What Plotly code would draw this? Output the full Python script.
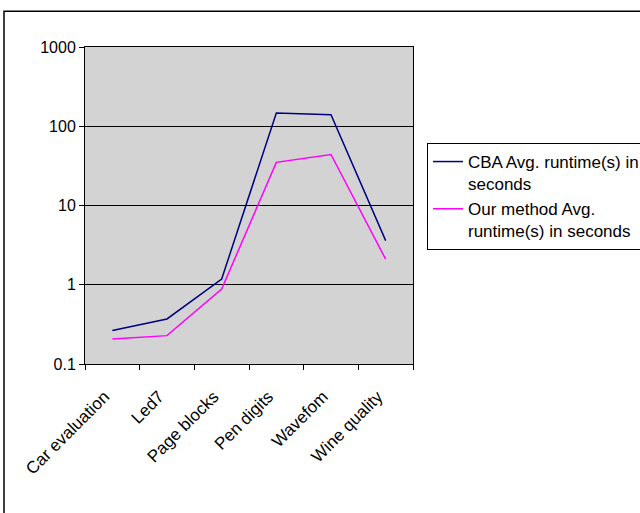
import plotly.graph_objects as go

categories = ["Car evaluation", "Led7", "Page blocks", "Pen digits", "Wavefom", "Wine quality"]
cba_runtime = [0.264, 0.37, 1.18, 147, 140, 3.6]
our_runtime = [0.207, 0.228, 0.88, 35, 44, 2.1]
y_tick_vals = [0.1, 1, 10, 100, 1000]
y_tick_text = ["0.1", "1", "10", "100", "1000"]

FONT = "Liberation Sans, Arial, sans-serif"

fig = go.Figure()
fig.add_trace(go.Scatter(x=categories, y=cba_runtime, mode="lines",
                         name="CBA Avg. runtime(s) in<br>seconds",
                         line=dict(color="#000080", width=1.5)))
fig.add_trace(go.Scatter(x=categories, y=our_runtime, mode="lines",
                         name="Our method Avg.<br>runtime(s) in seconds",
                         line=dict(color="#FF00FF", width=1.5)))

fig.update_layout(
    width=640, height=513, autosize=False,
    margin=dict(l=85, r=227, t=47, b=149),
    paper_bgcolor="white", plot_bgcolor="#D3D3D3",
    font=dict(family=FONT, size=16, color="black"),
    legend=dict(xref="container", yref="container",
                x=427 / 640, y=1 - 143 / 513, xanchor="left", yanchor="top",
                bordercolor="black", borderwidth=1, bgcolor="white",
                valign="top", font=dict(family=FONT, size=17),
                tracegroupgap=12, itemwidth=30),
    xaxis=dict(type="category", range=[-0.5, 5.5], tickangle=-45, showgrid=False,
               showline=True, linecolor="black", linewidth=1,
               ticks="outside", ticklen=5, tickcolor="black",
               tickson="boundaries", mirror=True, automargin=False,
               ticklabelstandoff=15, ticklabelshift=-8,
               tickfont=dict(family=FONT, size=17)),
    yaxis=dict(type="log", range=[-1, 3], tickvals=y_tick_vals, ticktext=y_tick_text,
               showgrid=True, gridcolor="black", gridwidth=1,
               showline=True, linecolor="black", linewidth=1, mirror=True,
               ticks="outside", ticklen=5, tickcolor="black", automargin=False,
               tickfont=dict(family=FONT, size=16), zeroline=False),
    shapes=[dict(type="rect", xref="paper", yref="paper",
                 x0=(4 - 85) / 328, x1=(660 - 85) / 328,
                 y0=(364 - 530) / 317.3, y1=(364 - 11) / 317.3,
                 line=dict(color="black", width=1.5), fillcolor="rgba(0,0,0,0)",
                 layer="below")],
)

fig.write_html("out.html", config={"displayModeBar": False},
               post_script="document.body.style.margin='0';")
